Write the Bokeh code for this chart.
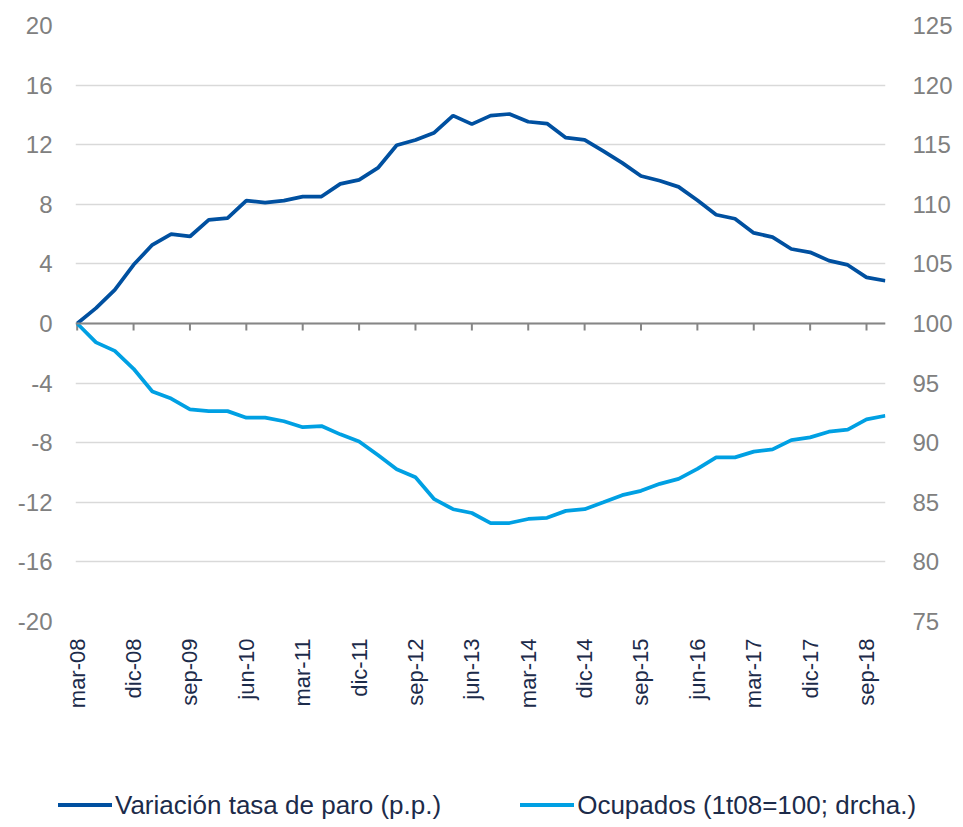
import math
from bokeh.plotting import figure
from bokeh.layouts import column
from bokeh.models import (Range1d, LinearAxis, FixedTicker, Span, ColumnDataSource, Div)
from bokeh.embed import file_html
from bokeh.resources import INLINE

# ---- data (quarterly, mar-08 .. dic-18) ----
paro = [0.0, 1.03, 2.26, 3.94, 5.28, 6.0, 5.84, 6.96, 7.07, 8.25, 8.12, 8.25, 8.52, 8.52,
        9.37, 9.64, 10.44, 11.96, 12.32, 12.81, 13.95, 13.38, 13.95, 14.06, 13.54, 13.42,
        12.47, 12.32, 11.57, 10.78, 9.9, 9.58, 9.17, 8.27, 7.3, 7.03, 6.08, 5.8, 5.0, 4.78,
        4.22, 3.93, 3.1, 2.87]
ocupados = [100.0, 98.42, 97.7, 96.2, 94.3, 93.7, 92.8, 92.65, 92.65, 92.1, 92.1, 91.8,
            91.3, 91.4, 90.7, 90.1, 88.96, 87.77, 87.1, 85.26, 84.42, 84.1, 83.26, 83.26,
            83.6, 83.7, 84.28, 84.42, 85.0, 85.6, 85.96, 86.55, 86.97, 87.8, 88.77, 88.77,
            89.25, 89.44, 90.22, 90.45, 90.92, 91.1, 91.95, 92.26]
x_labels = ["mar-08", "dic-08", "sep-09", "jun-10", "mar-11", "dic-11", "sep-12", "jun-13",
            "mar-14", "dic-14", "sep-15", "jun-16", "mar-17", "dic-17", "sep-18"]
label_step = 3
left_ticks = [-20, -16, -12, -8, -4, 0, 4, 8, 12, 16, 20]
right_ticks = [75, 80, 85, 90, 95, 100, 105, 110, 115, 120, 125]
names = ["Variación tasa de paro (p.p.)", "Ocupados (1t08=100; drcha.)"]

idx = list(range(len(paro)))
tick_pos = [i * label_step for i in range(len(x_labels))]

DARK = "#0050a0"
LIGHT = "#00a0e3"
GRID = "#d9d9d9"
AXIS = "#868686"
TICKTXT = "#808080"
NAVY = "#1c2b4a"
FONT = "Liberation Sans"
W = 955

p = figure(width=W, height=770, output_backend="svg", toolbar_location=None,
           x_range=Range1d(-0.09, 43.01), y_range=Range1d(-20, 20),
           min_border_left=75, min_border_right=68, min_border_top=25,
           min_border_bottom=149)
p.outline_line_color = None
p.background_fill_color = "white"
p.border_fill_color = "white"

p.extra_y_ranges = {"right": Range1d(75, 125)}

# grid
p.xgrid.grid_line_color = None
p.ygrid.ticker = FixedTicker(ticks=left_ticks)
p.ygrid.grid_line_color = GRID
p.ygrid.grid_line_width = 1.5

# left axis
ya = p.yaxis[0]
ya.ticker = FixedTicker(ticks=left_ticks)
ya.major_label_overrides = {t: str(t) for t in left_ticks}
ya.axis_line_color = None
ya.major_tick_line_color = None
ya.minor_tick_line_color = None
ya.major_tick_out = 0
ya.major_label_standoff = 23
ya.major_label_text_font = FONT
ya.major_label_text_font_size = "24px"
ya.major_label_text_color = TICKTXT

# right axis
ra = LinearAxis(y_range_name="right", ticker=FixedTicker(ticks=right_ticks))
ra.major_label_overrides = {t: str(t) for t in right_ticks}
ra.axis_line_color = None
ra.major_tick_line_color = None
ra.minor_tick_line_color = None
ra.major_tick_out = 0
ra.major_label_standoff = 27
ra.major_label_text_font = FONT
ra.major_label_text_font_size = "24px"
ra.major_label_text_color = TICKTXT
p.add_layout(ra, "right")

# bottom axis (labels only)
xa = p.xaxis[0]
xa.ticker = FixedTicker(ticks=tick_pos)
xa.major_label_overrides = {t: l for t, l in zip(tick_pos, x_labels)}
xa.major_label_orientation = math.pi / 2
xa.axis_line_color = None
xa.major_tick_line_color = None
xa.minor_tick_line_color = None
xa.major_tick_out = 0
xa.major_label_standoff = 17
xa.major_label_text_font = FONT
xa.major_label_text_font_size = "22px"
xa.major_label_text_color = NAVY

# axis line at zero with ticks
p.add_layout(Span(location=0, dimension="width", line_color=AXIS, line_width=2))
tick_src = ColumnDataSource(dict(x=tick_pos, y0=[0] * len(tick_pos), y1=[-0.47] * len(tick_pos)))
p.segment(x0="x", y0="y0", x1="x", y1="y1", source=tick_src, line_color=AXIS, line_width=2)

# lines
p.line(idx, paro, line_color=DARK, line_width=3.75)
p.line(idx, ocupados, line_color=LIGHT, line_width=3.75, y_range_name="right")

# legend strip (HTML)
def item(color, label, left):
    return (f'<span style="display:inline-block;width:54px;height:0;border-top:4px solid {color};'
            f'vertical-align:middle;margin-left:{left}px"></span>'
            f'<span style="display:inline-block;vertical-align:middle;margin-left:3px">{label}</span>')

legend_html = (f'<div style="font-family:\'{FONT}\';font-size:26px;line-height:30px;color:{NAVY};'
               f'white-space:nowrap;padding-top:18px">'
               + item(DARK, names[0], 58) + item(LIGHT, names[1], 79) + '</div>')
lg = Div(text=legend_html, width=W, height=49, margin=(0, 0, 0, 0))

layout = column(p, lg, spacing=0)
open("out.html", "w").write(file_html(layout, INLINE))
